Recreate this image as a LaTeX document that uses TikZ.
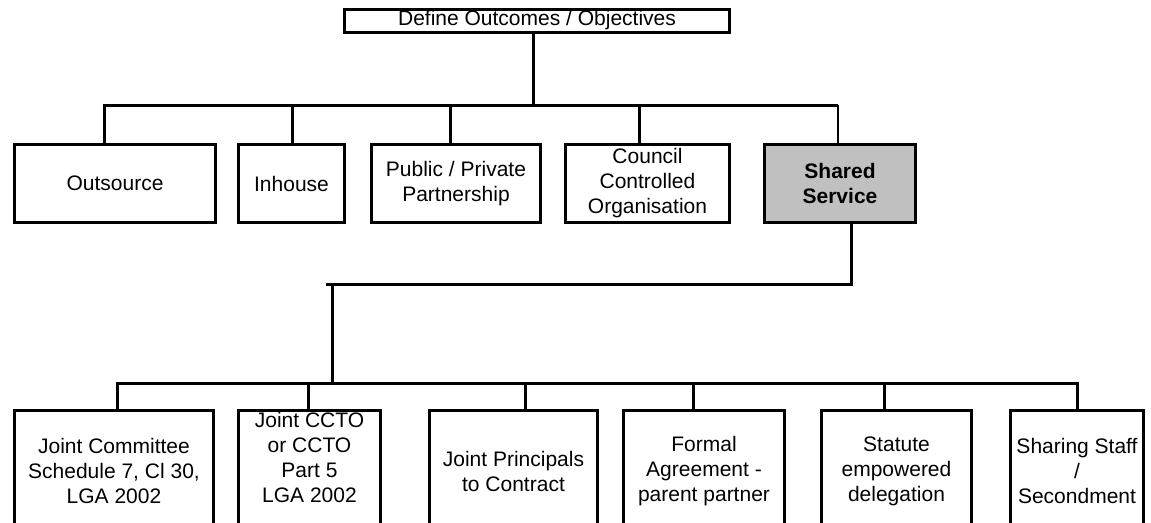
\documentclass[tikz,border=0pt]{standalone}
\usepackage{fontspec}
\setmainfont{Liberation Sans}
\begin{document}
\begin{tikzpicture}[x=1pt,y=-1pt,
  box/.style={draw=black, line width=3pt, fill=white, inner sep=0pt, align=center,
    font=\fontsize{21}{25}\selectfont},
  boxtext/.style={inner sep=0pt, align=center, font=\fontsize{21}{25}\selectfont},
  conn/.style={draw=black, line width=3pt, line join=miter},
  thin conn/.style={draw=black, line width=1.6pt}]
\clip (0,0) rectangle (1151,522);
\fill[white] (0,0) rectangle (1151,522);
% top
\node[box, minimum width=385pt, minimum height=23pt] (top) at (537,20.5) {Define Outcomes / Objectives};
% row 1
\node[box, minimum width=201pt, minimum height=78pt] (out) at (115,183.5) {Outsource};
\node[box, minimum width=106pt, minimum height=78pt] (inh) at (291.5,183.5) {Inhouse};
\node[box, minimum width=169pt, minimum height=78pt] (ppp) at (456,183.5) {Public / Private\\Partnership};
\node[box, minimum width=164pt, minimum height=78pt] (cco) at (647.5,183.5) {Council\\Controlled\\Organisation};
\node[box, fill={rgb,255:red,192;green,192;blue,192}, minimum width=151pt, minimum height=78pt] (shs) at (840,183.5) {\textbf{Shared}\\\textbf{Service}};
% row 2
\node[box, minimum width=199pt, minimum height=121pt] (jc) at (114,471) {Joint Committee\\Schedule 7, Cl 30,\\LGA 2002};
\node[box, minimum width=142pt, minimum height=121pt] (jct) at (309.5,471) {};
\node[boxtext] (jcttext) at (309.5,457) {Joint CCTO\\or CCTO\\Part 5\\LGA 2002};
\node[box, minimum width=168pt, minimum height=121pt] (jp) at (513.5,471) {Joint Principals\\to Contract};
\node[box, minimum width=161pt, minimum height=121pt] (fa) at (704,471) {Formal\\Agreement -\\parent partner};
\node[box, minimum width=150pt, minimum height=121pt] (sed) at (896.5,471) {Statute\\empowered\\delegation};
\node[box, minimum width=133pt, minimum height=121pt] (sss) at (1077,471) {Sharing Staff\\/\\Secondment};
% connector points
\coordinate (t) at (533,105);
\coordinate (b1) at (104,105);
\coordinate (b2) at (292,105);
\coordinate (b3) at (450,105);
\coordinate (b4) at (639,105);
\coordinate (b5) at (838,105);
\coordinate (s1) at (851,284);
\coordinate (s2) at (326,284);
\coordinate (m) at (332,284);
\coordinate (mb) at (332,383);
\coordinate (c1) at (117,383);
\coordinate (c2) at (308,383);
\coordinate (c3) at (525,383);
\coordinate (c4) at (693,383);
\coordinate (c5) at (884,383);
\coordinate (c6) at (1077,383);
% top level connectors
\draw[conn] (t |- top.south) -- (t);
\draw[conn] (b1 |- out.north) -- (b1) -- (b5);
\draw[conn] (b2) -- (b2 |- inh.north);
\draw[conn] (b3) -- (b3 |- ppp.north);
\draw[conn] (b4) -- (b4 |- cco.north);
\draw[thin conn] (b5) -- (b5 |- shs.north);
% shared service connectors
\draw[conn] (s1 |- shs.south) -- (s1) -- (s2);
\draw[conn] (m) -- (mb);
\draw[conn] (c1 |- jc.north) -- (c1) -- (c6) -- (c6 |- sss.north);
\draw[conn] (c2) -- (c2 |- jct.north);
\draw[conn] (c3) -- (c3 |- jp.north);
\draw[conn] (c4) -- (c4 |- fa.north);
\draw[conn] (c5) -- (c5 |- sed.north);
\end{tikzpicture}
\end{document}
